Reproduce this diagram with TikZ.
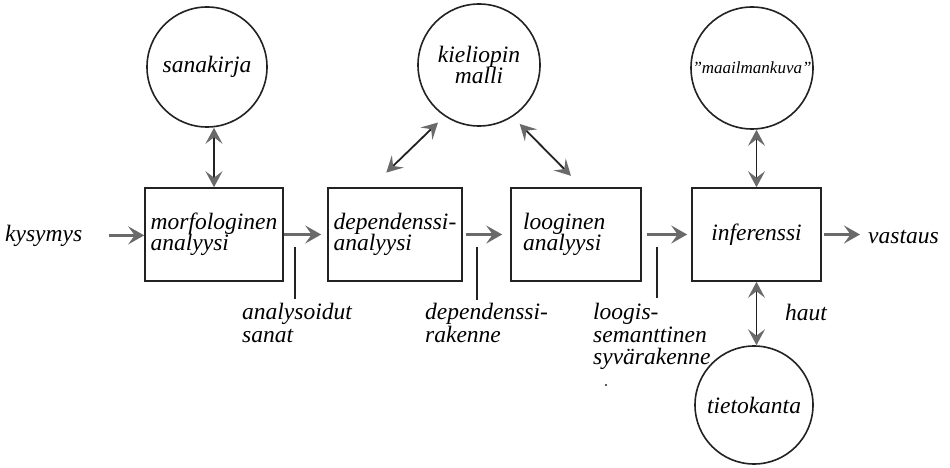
\documentclass[tikz,border=0pt]{standalone}
\usepackage{fontspec}
\setmainfont{Liberation Serif}[ItalicFont={Liberation Serif Italic}]
\usetikzlibrary{arrows.meta,calc}
\definecolor{ink}{HTML}{222222}
\definecolor{inkgray}{HTML}{6A6A6A}
\begin{document}
\begin{tikzpicture}[x=1pt,y=-1pt,
  every node/.style={font=\fontsize{23.5}{21.5}\selectfont\itshape, inner sep=0pt},
  stage/.style={draw=ink, line width=1.6pt, minimum width=#1, minimum height=93pt, align=left},
  store/.style={draw=ink, circle, line width=1.6pt, minimum size=#1, align=center},
  flow/.style={draw=inkgray, line width=2.4pt, -{Stealth[length=16pt,width=18pt,inset=6.5pt]}},
  link/.style={draw=ink, line width=1.8pt,
    {Stealth[length=16pt,width=17pt,inset=6.5pt,color=inkgray]}-{Stealth[length=16pt,width=17pt,inset=6.5pt,color=inkgray]}},
  tick/.style={draw=ink, line width=1.8pt},
  lbl/.style={align=left, anchor=north west, font=\fontsize{23.5}{22.5}\selectfont\itshape}
]
\fill[white] (0,0) rectangle (950,468);
\useasboundingbox (0,0) rectangle (950,468);

% processing stages
\node[stage=138pt] (m1) at (214,234.5) {morfologinen\\analyysi};
\node[stage=134pt] (m2) at (395,234.5) {dependenssi-\\analyysi};
\node[stage=130pt, text width=106pt] (m3) at (576,234.5) {looginen\\analyysi};
\node[stage=129pt] (m4) at (756.5,234.5) {inferenssi};

% knowledge sources
\node[store=120pt] (sk) at (207,67) {sanakirja};
\node[store=122pt] (kl) at (479,65) {kieliopin\\malli};
\node[store=122pt, font=\fontsize{17}{20}\selectfont\itshape] (mk) at (752,68) {''maailmankuva''};
\node[store=118pt] (tk) at (754,405) {tietokanta};

% input and output
\node[anchor=base west] (q) at (5,241) {kysymys};
\node[anchor=base west] (v) at (868,243) {vastaus};

% intermediate results
\node[lbl] (l1) at (242,303) {analysoidut\\sanat};
\node[lbl] (l2) at (425,303) {dependenssi-\\rakenne};
\node[lbl] (l3) at (593,303) {loogis-\\semanttinen\\syvärakenne};
\node[lbl] (h) at (785,304) {haut};

% main flow
\draw[flow, shorten <=27pt] (q.east) -- (q.east -| m1.west);
\draw[flow, shorten >=6pt] (m1.east) -- (m2.west);
\draw[flow, shorten <=3pt, shorten >=8pt] (m2.east) -- (m3.west);
\draw[flow, shorten <=5pt, shorten >=4pt] (m3.east) -- (m4.west);
\draw[flow, shorten <=2pt, shorten >=8pt] (m4.east) -- (m4.east -| v.west);

% two-way access to the knowledge sources
\draw[link] (m1.north |- sk.south) -- (m1.north);
\draw[link, shorten <=9pt, shorten >=21pt] (kl.-124) -- ($(m2.north west)+(44,0)$);
\draw[link, shorten <=10pt, shorten >=16pt] (kl.-57) -- ($(m3.north west)+(72,0)$);
\draw[link] (m4.north |- mk.south) -- (m4.north);
\draw[link] (m4.south) -- (m4.south |- tk.north);

% markers pointing to the intermediate results
\draw[tick] ($(m1.east)+(11,12)$) -- ++(0,52);
\draw[tick] ($(m2.east)+(14,12)$) -- ++(0,53);
\draw[tick] ($(m3.east)+(15,12)$) -- ++(0,51);
\fill[ink] (606,385) circle (1.2pt);
\end{tikzpicture}
\end{document}
